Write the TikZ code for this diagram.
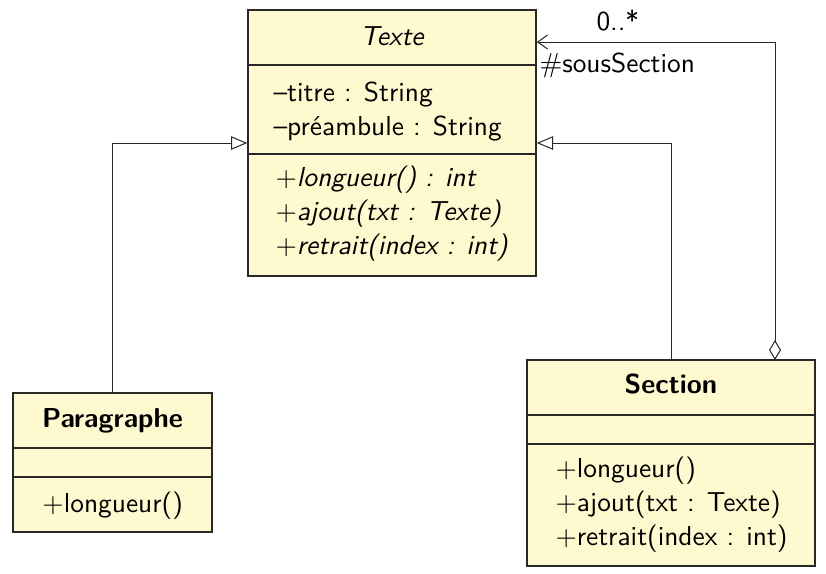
\documentclass[tikz,border=0pt]{standalone}
\usetikzlibrary{arrows.meta,fit}
\definecolor{classfill}{RGB}{255,249,208}
\definecolor{umlline}{RGB}{40,40,40}
\begin{document}
\begin{tikzpicture}[x=0.4pt,y=-0.4pt,
  font=\sffamily\fontsize{10.95}{13.5}\selectfont,
  classbox/.style={draw=umlline,fill=classfill,line width=0.6pt,inner sep=0pt,rectangle},
  divider/.style={draw=umlline,line width=0.6pt},
  member/.style={anchor=base west,inner sep=0pt,align=left},
  ctitle/.style={anchor=base,inner sep=0pt},
  conn/.style={draw=umlline,line width=0.4pt},
  inherit/.style={conn,-{Triangle[open,length=6.5pt,width=5.4pt]}},
]
\useasboundingbox (0,0) rectangle (826,573);

% abstract class Texte (members anchored on their last baseline)
\node[classbox,fit={(248,10)(536,276)}] (texte) {};
\draw[divider] (texte.west |- 0,65) -- (texte.east |- 0,65);
\draw[divider] (texte.west |- 0,154) -- (texte.east |- 0,154);
\node[ctitle] (texte-name) at (392,45) {\itshape Texte};
\node[member] (texte-attr) at (273,135)
  {\textendash titre : String\\\textendash préambule : String};
\node[member] (texte-ops) at (275,254)
  {\itshape $+$longueur() : int\\\itshape $+$ajout(txt : Texte)\\\itshape $+$retrait(index : int)};

% class Paragraphe
\node[classbox,fit={(13,393)(212,532)}] (para) {};
\draw[divider] (para.west |- 0,448) -- (para.east |- 0,448);
\draw[divider] (para.west |- 0,477) -- (para.east |- 0,477);
\node[ctitle] (para-name) at (112.5,427) {\bfseries Paragraphe};
\node[member] (para-ops) at (42,512) {$+$longueur()};

% class Section
\node[classbox,fit={(527,360)(815,566)}] (section) {};
\draw[divider] (section.west |- 0,415) -- (section.east |- 0,415);
\draw[divider] (section.west |- 0,444) -- (section.east |- 0,444);
\node[ctitle] (section-name) at (671,393) {\bfseries Section};
\node[member] (section-ops) at (555,545)
  {$+$longueur()\\$+$ajout(txt : Texte)\\$+$retrait(index : int)};

% generalisations
\draw[inherit] (para.north) |- (texte.west);
\draw[inherit] (section.north) |- (texte.east);

% aggregation Section -> Texte
\coordinate (agg-foot) at (775,360);
\coordinate (agg-bend) at (775,42);
\draw[conn,{Diamond[open,length=8pt,width=4.8pt]}-{Straight Barb[length=4pt,width=5.6pt]}]
  (agg-foot) -- (agg-bend) -- (agg-bend -| texte.east);
\node[anchor=base west,inner sep=0pt] (mult) at (596,30) {0..*};
\node[anchor=base west,inner sep=0pt] (role) at (539,72) {$\#$sousSection};
\end{tikzpicture}
\end{document}
